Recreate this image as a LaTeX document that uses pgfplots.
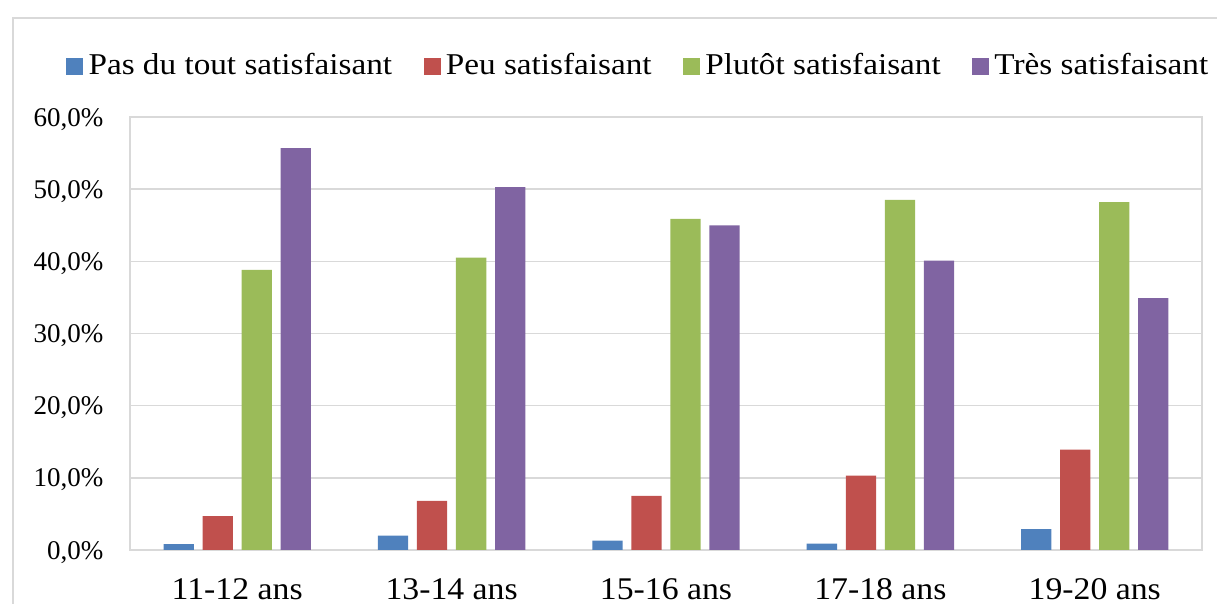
\documentclass[border=0pt]{standalone}
\usepackage{pgfplots}
\pgfplotsset{compat=1.18}
\usepackage{fontspec}
\setmainfont{Liberation Serif}
\newfontfamily\legfont{Liberation Serif}[FakeStretch=1.10]
\newfontfamily\catfont{Liberation Serif}[FakeStretch=1.07]

\definecolor{sBlue}{HTML}{4F81BD}
\definecolor{sRed}{HTML}{C0504D}
\definecolor{sGreen}{HTML}{9BBB59}
\definecolor{sPurple}{HTML}{8064A2}
\definecolor{gridgray}{HTML}{D9D9D9}

\begin{document}
\begin{tikzpicture}
\useasboundingbox (0,0) rectangle (16,7.9408);
% outer chart frame (cropped on the right and bottom)
\draw[gridgray, line width=0.6pt] (0.1709,0) -- (0.1709,7.7041) -- (16.1,7.7041);

\begin{axis}[
    at={(1.7091cm,0.7099cm)}, anchor=south west,
    scale only axis,
    width=14.0936cm, height=5.6927cm,
    ybar=0.115cm, bar width=0.398cm,
    xmin=-0.5, xmax=4.5,
    ymin=0, ymax=60,
    xtick=data,
    xticklabels={11-12 ans,13-14 ans,15-16 ans,17-18 ans,19-20 ans},
    ytick={0,10,...,60},
    yticklabel={\pgfmathprintnumber[fixed,fixed zerofill,precision=1,use comma,assume math mode=true]{\tick}\%},
    major tick length=0pt,
    ymajorgrids,
    grid style={gridgray, line width=0.55pt},
    axis line style={gridgray, line width=0.6pt},
    xticklabel style={font=\catfont\fontsize{11.8}{14}\selectfont, anchor=base, inner sep=0pt, yshift=-0.657cm},
    yticklabel style={font=\fontsize{10.1}{12}\selectfont, anchor=base east, inner sep=0pt, xshift=-0.342cm, yshift=-3.4pt},
    legend columns=4,
    legend style={draw=none, at={(0.4757,1.117)}, anchor=center,
        font=\legfont\fontsize{11.3}{13}\selectfont,
        /tikz/every even column/.append style={column sep=0.342cm}},
    legend image code/.code={\fill[#1] (0cm,-0.112cm) rectangle (0.2235cm,0.112cm);},
    legend cell align=left,
]
\addplot[draw=none, fill=sBlue] coordinates {(0,0.8) (1,2.0) (2,1.3) (3,0.9) (4,2.9)};
\addplot[draw=none, fill=sRed] coordinates {(0,4.7) (1,6.8) (2,7.5) (3,10.3) (4,13.9)};
\addplot[draw=none, fill=sGreen] coordinates {(0,38.8) (1,40.5) (2,45.9) (3,48.5) (4,48.2)};
\addplot[draw=none, fill=sPurple] coordinates {(0,55.7) (1,50.3) (2,45.0) (3,40.1) (4,34.9)};
\legend{Pas du tout satisfaisant,Peu satisfaisant,Plutôt satisfaisant,Très satisfaisant}
\end{axis}
\end{tikzpicture}
\end{document}
